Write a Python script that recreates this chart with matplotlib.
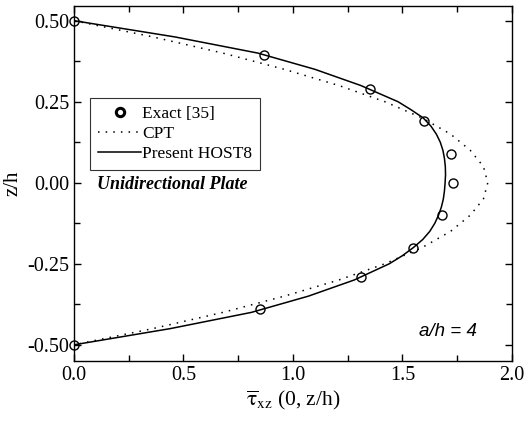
import matplotlib
matplotlib.use("Agg")
import matplotlib.pyplot as plt
from matplotlib.ticker import MultipleLocator

plt.rcParams['font.family'] = ['Liberation Serif', 'DejaVu Serif']
plt.rcParams['mathtext.fontset'] = 'stix'

# Exact solution [35]
exact_x = [0.0, 0.87, 1.35, 1.60, 1.72, 1.73, 1.68, 1.55, 1.31, 0.85, 0.0]
exact_z = [0.50, 0.395, 0.29, 0.19, 0.09, 0.0, -0.10, -0.20, -0.29, -0.39, -0.50]

# CPT (dotted)
cpt_z = [0.50, 0.45, 0.40, 0.35, 0.30, 0.25, 0.20, 0.15, 0.10, 0.05, 0.0,
         -0.05, -0.10, -0.15, -0.20, -0.25, -0.30, -0.35, -0.40, -0.45, -0.50]
cpt_x = [0.0, 0.36, 0.68, 0.96, 1.21, 1.42, 1.59, 1.72, 1.81, 1.87, 1.89,
         1.87, 1.81, 1.72, 1.59, 1.42, 1.21, 0.96, 0.68, 0.36, 0.0]

# Present HOST8 (solid)
host_z = [0.50, 0.45, 0.40, 0.35, 0.30, 0.25, 0.225, 0.20, 0.175, 0.15, 0.125,
          0.10, 0.075, 0.05, 0.025, 0.0, -0.025, -0.05, -0.075, -0.10, -0.125,
          -0.15, -0.175, -0.20, -0.225, -0.25, -0.30, -0.35, -0.40, -0.45, -0.50]
host_x = [0.0, 0.46, 0.84, 1.10, 1.31, 1.48, 1.54, 1.595, 1.63, 1.655, 1.673,
          1.685, 1.692, 1.696, 1.697, 1.695, 1.692, 1.687, 1.678, 1.665, 1.648,
          1.625, 1.593, 1.55, 1.50, 1.44, 1.28, 1.07, 0.81, 0.44, 0.0]

fig = plt.figure(figsize=(5.25, 4.21), dpi=100)
ax = fig.add_axes([0.141, 0.1425, 0.834, 0.843])

ax.plot(exact_x, exact_z, 'o', mfc='none', mec='black', ms=6.5, mew=1.0,
        label='Exact [35]', clip_on=False, zorder=3)
ax.plot(cpt_x, cpt_z, color='black', lw=1.1, ls=(0, (1, 4)), label='CPT')
ax.plot(host_x, host_z, color='black', lw=1.1, label='Present HOST8')

ax.set_xlim(0, 2.0)
ax.set_ylim(-0.55, 0.545)
ax.xaxis.set_major_locator(MultipleLocator(0.5))
ax.xaxis.set_minor_locator(MultipleLocator(0.25))
ax.yaxis.set_major_locator(MultipleLocator(0.25))
ax.yaxis.set_minor_locator(MultipleLocator(0.125))
ax.xaxis.set_major_formatter(plt.FormatStrFormatter('%.1f'))
ax.yaxis.set_major_formatter(plt.FormatStrFormatter('%.2f'))
ax.tick_params(which='both', direction='in', top=True, right=True,
               labelsize=14.5, width=1.0)
ax.tick_params(which='major', length=5)
ax.tick_params(which='minor', length=4)
for s in ax.spines.values():
    s.set_linewidth(1.0)

ax.set_xlabel(r'$\overline{\mathrm{\tau}}_{\mathrm{xz}}$ (0, z/h)', fontsize=15.5,
              labelpad=3)
ax.set_ylabel('z/h', fontsize=15, labelpad=3)

leg = ax.legend(loc='upper left', bbox_to_anchor=(0.0365, 0.741), fontsize=12.5,
                frameon=True, fancybox=False, edgecolor='black',
                handlelength=2.5, handletextpad=0.05, borderpad=0.45,
                labelspacing=0.22, borderaxespad=0)
leg.get_frame().set_linewidth(0.8)
leg.legend_handles[0].set_markeredgewidth(2.2)
leg.legend_handles[0].set_markersize(6)

ax.text(0.052, 0.496, 'Unidirectional Plate', transform=ax.transAxes,
        fontsize=13, fontweight='bold', fontstyle='italic', va='center')
ax.text(0.92, 0.082, 'a/h = 4', transform=ax.transAxes, ha='right',
        va='center', fontsize=13.5, fontstyle='italic', family='Liberation Sans')

fig.savefig('out.png', dpi=100)
